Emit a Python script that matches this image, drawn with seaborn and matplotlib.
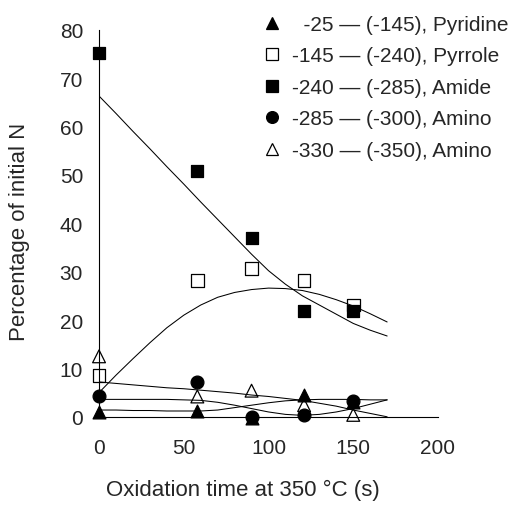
import matplotlib
matplotlib.use("Agg")
import matplotlib.pyplot as plt
from matplotlib.lines import Line2D
import seaborn as sns
import pandas as pd

# ---- data ----
time_s = [0, 58, 90, 121, 150]
pyridine = [1.0, 1.2, -0.2, 4.6, 3.1]
pyrrole = [8.6, 28.1, 30.7, 28.1, 23.1]
amide = [75.1, 50.7, 36.9, 21.8, 21.8]
amino_285 = [4.4, 7.1, 0.0, 0.4, 3.2]
amino_330 = [12.5, 4.2, 5.4, 2.4, 0.4]

# fitted curves
fit_t = [0, 10, 20, 30, 40, 50, 60, 70, 80, 90, 100, 110, 120, 130, 140, 150, 160, 170]
fit_pyridine = [1.4, 1.4, 1.3, 1.3, 1.2, 1.2, 1.2, 1.4, 1.9, 2.4, 2.9, 3.3, 3.5, 3.6, 3.6, 3.6, 3.5, 3.5]
fit_pyrrole = [5.0, 8.6, 12.0, 15.3, 18.4, 21.0, 23.1, 24.7, 25.7, 26.3, 26.6, 26.5, 26.1, 25.3, 24.2, 22.9, 21.3, 19.6]
fit_amide = [66.3, 62.7, 59.0, 55.4, 51.7, 48.1, 44.4, 40.8, 37.2, 33.6, 30.2, 27.4, 25.0, 23.1, 21.2, 19.3, 17.9, 16.7]
fit_amino_285 = [3.6, 3.6, 3.6, 3.6, 3.6, 3.5, 3.4, 3.0, 2.4, 1.7, 1.0, 0.5, 0.3, 0.5, 1.0, 1.7, 2.6, 3.5]
fit_amino_330 = [7.2, 6.9, 6.6, 6.3, 6.0, 5.8, 5.5, 5.2, 4.9, 4.5, 4.2, 3.8, 3.4, 2.8, 2.2, 1.4, 0.7, 0.0]

labels = ["  -25 \u2014 (-145), Pyridine",
          "-145 \u2014 (-240), Pyrrole",
          "-240 \u2014 (-285), Amide",
          "-285 \u2014 (-300), Amino",
          "-330 \u2014 (-350), Amino"]

x_ticks = [0, 50, 100, 150, 200]
y_ticks = [0, 10, 20, 30, 40, 50, 60, 70, 80]

# ---- style ----
sns.set_theme(style="white")
plt.rcParams["font.family"] = ["Liberation Sans", "DejaVu Sans"]

fig = plt.figure(figsize=(5.19, 5.06), dpi=100)
ax = fig.add_axes([0.1908, 0.1743, 0.6531, 0.765])

series = [
    (pyridine, fit_pyridine, "^", "black", "black"),
    (pyrrole, fit_pyrrole, "s", "none", "black"),
    (amide, fit_amide, "s", "black", "black"),
    (amino_285, fit_amino_285, "o", "black", "black"),
    (amino_330, fit_amino_330, "^", "none", "black"),
]

for vals, fit, mk, fc, ec in series:
    sns.lineplot(x=fit_t, y=fit, ax=ax, color="black", linewidth=0.75,
                 estimator=None, sort=False, zorder=2)

for vals, fit, mk, fc, ec in series:
    df = pd.DataFrame({"t": time_s, "v": vals})
    sns.scatterplot(data=df, x="t", y="v", ax=ax, marker=mk, s=85,
                    facecolor=fc, edgecolor=ec, linewidth=0.9,
                    clip_on=False, zorder=3)

ax.set_xlim(0, 200)
ax.set_ylim(0, 80)
ax.set_xticks(x_ticks)
ax.set_yticks(y_ticks)
ax.tick_params(axis="both", direction="out", length=6.5, width=0.8,
               color="black", labelsize=15)
ax.tick_params(axis="x", pad=9)
ax.tick_params(axis="y", pad=5)
for side in ["top", "right"]:
    ax.spines[side].set_visible(False)
for side in ["left", "bottom"]:
    ax.spines[side].set_color("black")
    ax.spines[side].set_linewidth(0.8)

ax.set_xlabel("Oxidation time at 350 \u00b0C (s)", fontsize=16)
ax.set_ylabel("Percentage of initial N", fontsize=16)
ax.xaxis.set_label_coords(0.425, -0.16)
ax.yaxis.set_label_coords(-0.203, 0.48)

handles = []
for vals, fit, mk, fc, ec in series:
    handles.append(Line2D([], [], linestyle="none", marker=mk, markersize=8.5,
                          markerfacecolor=("white" if fc == "none" else fc),
                          markeredgecolor=ec, markeredgewidth=0.9))
fig.legend(handles, labels, loc="upper left", bbox_to_anchor=(0.487, 0.985),
           frameon=False, fontsize=15, handlelength=1.0, handletextpad=0.5,
           labelspacing=0.6, borderaxespad=0)

fig.savefig("out.png", dpi=100, facecolor="white")
